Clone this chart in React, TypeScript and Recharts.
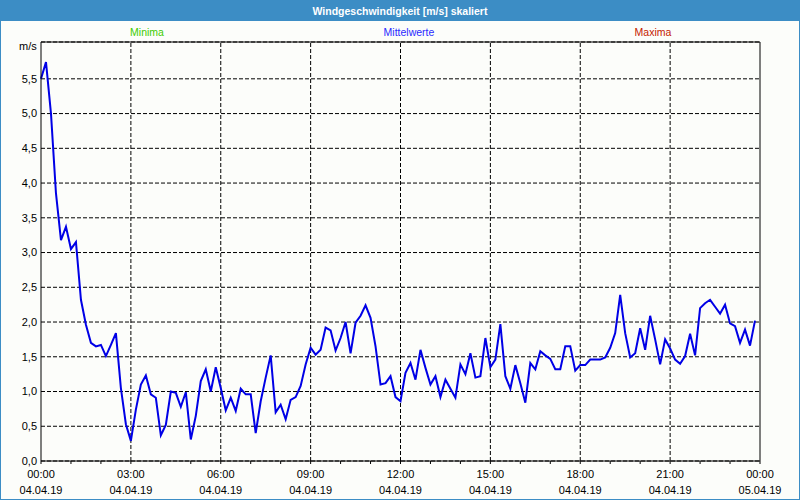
import React from "react";
import {
  LineChart,
  Line,
  XAxis,
  YAxis,
  CartesianGrid,
  ReferenceLine,
} from "recharts";

// wind speed every 10 minutes, 00:00 .. 23:50 (m/s)
const speeds = [
  5.5, 5.74, 5.0, 3.85, 3.18, 3.37, 3.05, 3.15, 2.32, 1.96, 1.7, 1.65,
  1.67, 1.51, 1.67, 1.84, 1.05, 0.53, 0.29, 0.74, 1.1, 1.23, 0.96, 0.91,
  0.37, 0.52, 1.0, 0.98, 0.78, 0.99, 0.31, 0.65, 1.15, 1.32, 1.0, 1.35,
  1.05, 0.73, 0.91, 0.72, 1.04, 0.96, 0.96, 0.4, 0.86, 1.2, 1.52, 0.7,
  0.81, 0.6, 0.88, 0.92, 1.08, 1.39, 1.63, 1.53, 1.6, 1.92, 1.88, 1.59,
  1.77, 2.0, 1.55, 1.99, 2.09, 2.24, 2.06, 1.65, 1.1, 1.12, 1.22, 0.92,
  0.86, 1.27, 1.41, 1.17, 1.6, 1.34, 1.1, 1.22, 0.92, 1.17, 1.04, 0.91,
  1.39, 1.25, 1.55, 1.2, 1.22, 1.77, 1.35, 1.46, 1.97, 1.22, 1.04, 1.38,
  1.12, 0.84, 1.41, 1.32, 1.58, 1.52, 1.47, 1.32, 1.32, 1.65, 1.65, 1.3,
  1.38, 1.38, 1.46, 1.46, 1.46, 1.49, 1.63, 1.84, 2.39, 1.84, 1.49, 1.55,
  1.91, 1.6, 2.09, 1.75, 1.39, 1.75, 1.62, 1.46, 1.4, 1.51, 1.83, 1.52,
  2.2, 2.27, 2.32, 2.22, 2.12, 2.25, 1.98, 1.94, 1.7, 1.89, 1.66, 2.02,
];

const hourTicks = Array.from({ length: 25 }, (_, h) => h * 60);
const labelMinutes = [0, 180, 360, 540, 720, 900, 1080, 1260, 1440];
const timeLabels = ["00:00", "03:00", "06:00", "09:00", "12:00", "15:00", "18:00", "21:00", "00:00"];
const dateLabels = ["04.04.19", "04.04.19", "04.04.19", "04.04.19", "04.04.19", "04.04.19", "04.04.19", "04.04.19", "05.04.19"];
const gridMinutes = [180, 360, 540, 720, 900, 1080, 1260];
const yTicks = [0, 0.5, 1, 1.5, 2, 2.5, 3, 3.5, 4, 4.5, 5, 5.5];
const yMax = 6.03;

const data = speeds.map((v, i) => ({ t: i * 10, v }));

const font = "'Liberation Sans', Arial, sans-serif";
const dash = "4 2";

const XTick = (props: any) => {
  const { x, y, payload } = props;
  const i = labelMinutes.indexOf(payload.value);
  if (i < 0) return <g />;
  return (
    <g>
      <text x={x} y={y} dy={14} textAnchor="middle" fontSize={11} fontFamily={font} fill="#000">
        {timeLabels[i]}
      </text>
      <text x={x} y={y} dy={30} textAnchor="middle" fontSize={11} fontFamily={font} fill="#000">
        {dateLabels[i]}
      </text>
    </g>
  );
};

export default function App() {
  return (
    <div
      style={{
        position: "absolute",
        left: 0,
        top: 0,
        width: 800,
        height: 500,
        boxSizing: "border-box",
        border: "1px solid #3c8dc5",
        background: "#fcfdfa",
        fontFamily: font,
      }}
    >
      <div
        style={{
          height: 20,
          background: "#3c8dc5",
          color: "#fff",
          fontWeight: "bold",
          fontSize: 10.5,
          lineHeight: "20px",
          textAlign: "center",
        }}
      >
        Windgeschwindigkeit [m/s] skaliert
      </div>
      <div style={{ position: "absolute", top: 25, left: 0, width: 292, textAlign: "center", fontSize: 10.5, color: "#3ccc00" }}>
        Minima
      </div>
      <div style={{ position: "absolute", top: 25, left: 262, width: 292, textAlign: "center", fontSize: 10.5, color: "#2a2aff" }}>
        Mittelwerte
      </div>
      <div style={{ position: "absolute", top: 25, left: 506, width: 292, textAlign: "center", fontSize: 10.5, color: "#c41a00" }}>
        Maxima
      </div>
      <div style={{ position: "absolute", top: 39, left: 18, fontSize: 11, color: "#000" }}>m/s</div>
      <div style={{ position: "absolute", top: 19, left: -1 }}>
        <LineChart width={800} height={481} data={data} margin={{ top: 22, right: 40, bottom: 0, left: 0 }}>
          <CartesianGrid vertical={false} stroke="#000" strokeDasharray={dash} />
          {gridMinutes.map((m) => (
            <ReferenceLine key={m} x={m} stroke="#000" strokeDasharray={dash} />
          ))}
          <ReferenceLine y={yMax} stroke="#000" />
          <ReferenceLine x={1440} stroke="#000" />
          <XAxis
            dataKey="t"
            type="number"
            domain={[0, 1440]}
            ticks={hourTicks}
            interval={0}
            height={40}
            stroke="#000"
            tickSize={3}
            tickMargin={0}
            tick={<XTick />}
          />
          <YAxis
            type="number"
            domain={[0, yMax]}
            ticks={yTicks}
            interval={0}
            width={41}
            stroke="#000"
            tickLine={false}
            tickSize={0}
            tickMargin={4}
            tickFormatter={(v: number) => v.toFixed(1).replace(".", ",")}
            tick={{ fontSize: 11, fontFamily: font, fill: "#000" }}
          />
          <Line
            type="linear"
            dataKey="v"
            stroke="#0000e6"
            strokeWidth={2}
            dot={false}
            isAnimationActive={false}
          />
        </LineChart>
      </div>
    </div>
  );
}
